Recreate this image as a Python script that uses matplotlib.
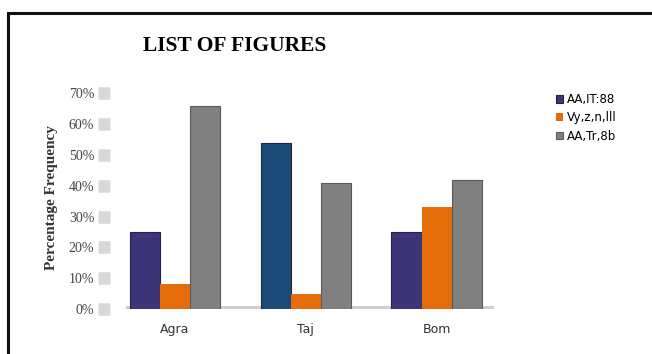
import matplotlib
matplotlib.use("Agg")
import matplotlib.pyplot as plt
from matplotlib.patches import Rectangle
import numpy as np

categories = ["Agra", "Taj", "Bom"]
series_names = ["AA,IT:88", "Vy,z,n,lll", "AA,Tr,8b"]
s1 = [0.25, 0.54, 0.25]
s2 = [0.08, 0.05, 0.33]
s3 = [0.66, 0.41, 0.42]
yticks = [0, 0.1, 0.2, 0.3, 0.4, 0.5, 0.6, 0.7]
ytick_labels = ["0%", "10%", "20%", "30%", "40%", "50%", "60%", "70%"]

W, H = 652, 354
fig = plt.figure(figsize=(W/100, H/100), dpi=100)

# outer frame (cut off right/bottom)
fig.patches.append(Rectangle((8/W, -0.05), 1.1, 1 - 13/H + 0.05, transform=fig.transFigure,
                             fill=False, edgecolor="#111111", linewidth=2.2))

ax = fig.add_axes([109.5/W, (H-309)/H, 392.5/W, (309-87)/H])
x = np.arange(len(categories))
bw = 0.23
c1 = ["#3d3578", "#1b4b78", "#3d3578"]
ax.bar(x - bw, s1, bw, color=c1, label=series_names[0], edgecolor="#222244", linewidth=0.8)
ax.bar(x, s2, bw, color="#e46c0a", label=series_names[1], linewidth=0)
ax.bar(x + bw, s3, bw, color="#808080", label=series_names[2], edgecolor="#5a5a5a", linewidth=0.8)

ax.set_xlim(-0.5, 2.5)
ax.set_ylim(0, 0.72)
for sp in ax.spines.values():
    sp.set_visible(False)
ax.axhline(0, color="#cfcfcf", linewidth=5, xmin=0.05, xmax=0.97, zorder=0)

ax.set_yticks(yticks)
ax.set_yticklabels(ytick_labels, fontsize=10, color="#444444", family="Liberation Serif")
ax.tick_params(axis="y", length=9, width=9, color="#d8d8d8", pad=2)
ax.set_xticks(x)
ax.set_xticklabels(categories, fontsize=9, color="#333333")
ax.tick_params(axis="x", length=0, pad=10)
ax.set_ylabel("Percentage Frequency", fontsize=11, family="Liberation Serif",
              fontweight="bold", color="#333333", labelpad=8)

fig.text(235/W, 1 - 46/H, "LIST OF FIGURES", family="Liberation Serif", fontweight="bold",
         fontsize=15.5, ha="center", va="center")

fig.legend(loc="upper left", bbox_to_anchor=(556/W, 1 - 93/H), frameon=False, fontsize=8.5,
           handlelength=0.6, handleheight=0.6, handletextpad=0.3, labelspacing=0.45,
           borderaxespad=0, borderpad=0)

fig.savefig("out.png", dpi=100)
